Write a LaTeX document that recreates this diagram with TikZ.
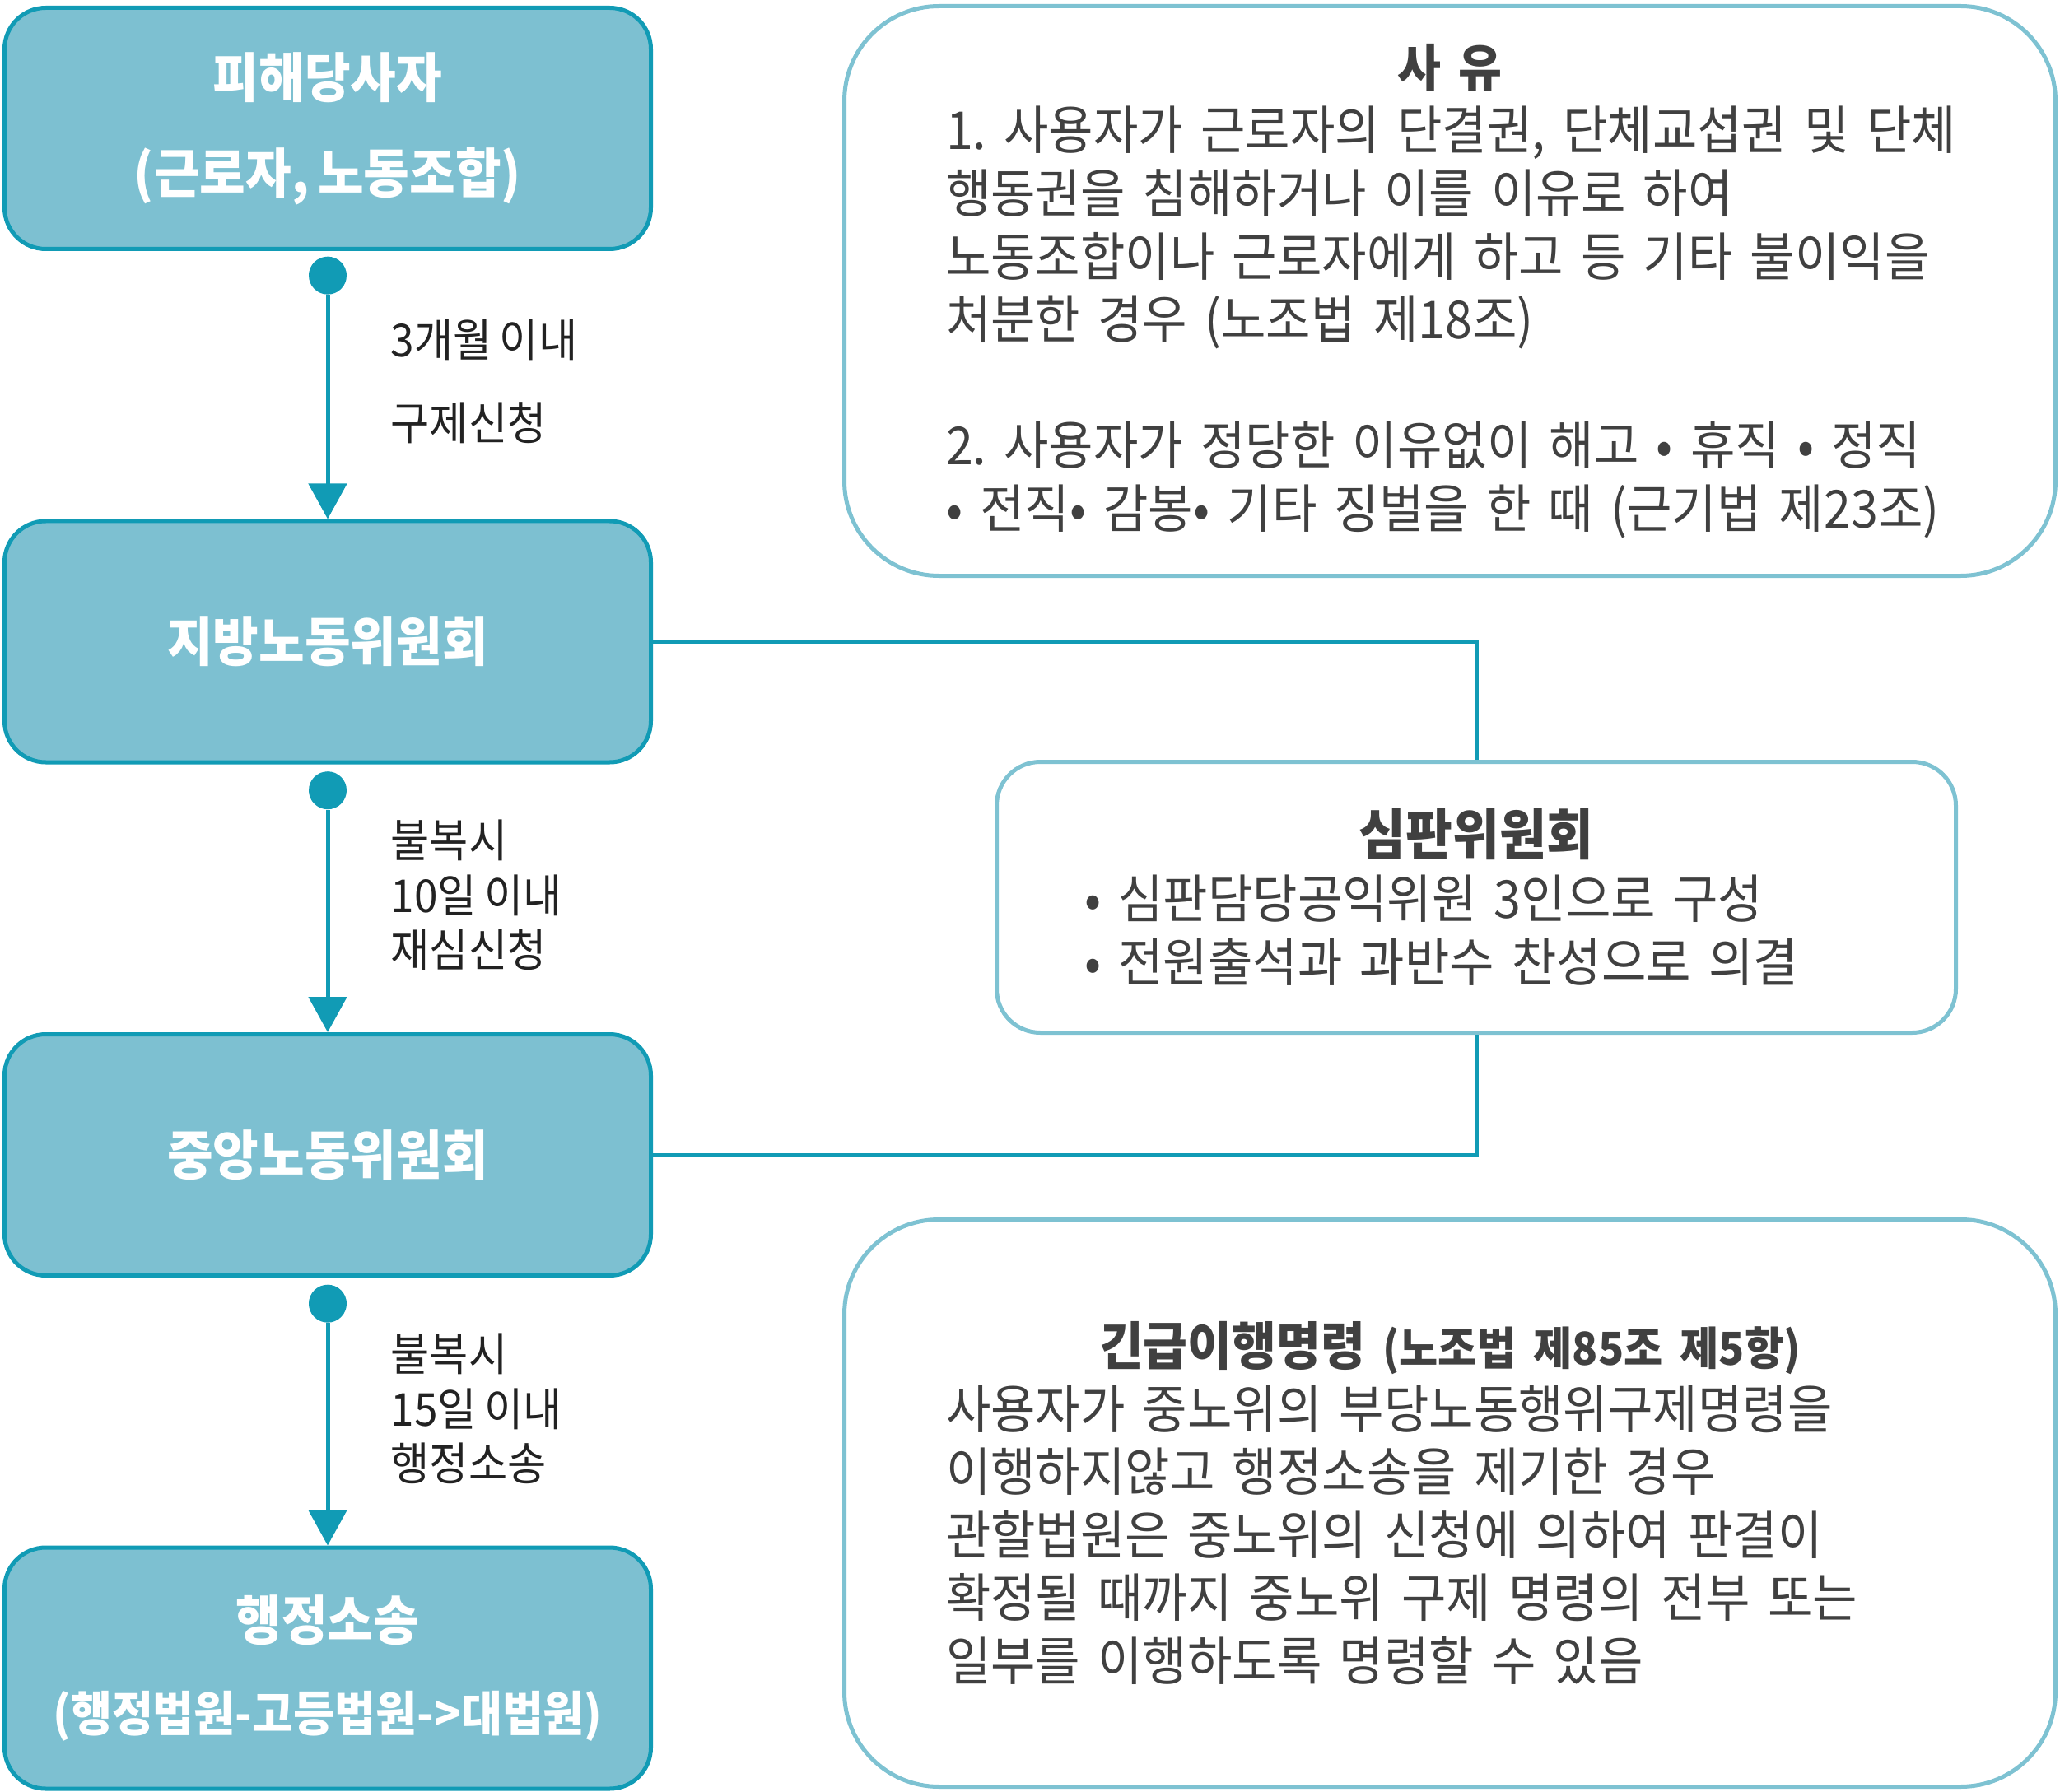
\documentclass[tikz,border=0pt]{standalone}
\usepackage{fontspec}
\setmainfont{Noto Sans CJK KR}[FakeStretch=0.93, WordSpace=0.8]
\usepackage{xcolor}
\usepackage{tikz}
\usetikzlibrary{positioning,arrows.meta}
\frenchspacing

\definecolor{boxfill}{HTML}{7DC0D1}
\definecolor{boxline}{HTML}{119BB5}
\definecolor{panelline}{HTML}{7EC2D2}
\definecolor{bodytext}{HTML}{404040}
\definecolor{notetext}{HTML}{222222}

\begin{document}
\begin{tikzpicture}[
    node distance=6.235cm,
    stage/.style={rectangle, rounded corners=0.5cm, draw=boxline, fill=boxfill, line width=0.05cm, minimum width=7.85cm, minimum height=2.93cm, align=center, text=white, font=\fontsize{18.5}{22}\selectfont\bfseries},
    panel/.style={rectangle, draw=panelline, line width=0.05cm, align=left, text=bodytext, font=\fontsize{18.1}{21.8}\selectfont},
    joint/.style={circle, fill=boxline, inner sep=0pt, minimum size=0.46cm},
    note/.style={anchor=west, inner sep=0pt, align=left, text=notetext, font=\fontsize{15.7}{18.9}\selectfont},
    flow/.style={-{Triangle[length=0.43cm,width=0.46cm]}, draw=boxline, line width=0.05cm},
    link/.style={draw=boxline, line width=0.05cm}
]
    \useasboundingbox (0,0) rectangle (25.02,-21.77);

    \node[stage] (victim) at (3.98,-1.56) {피해당사자\\[11pt](근로자, 노동조합)};
    \node[stage, below of=victim] (local) {지방노동위원회};
    \node[stage, below of=local] (central) {중앙노동위원회};
    \node[stage, below of=central] (court) {행정소송\\[9.5pt]{\fontsize{16.6}{20}\selectfont(행정법원-고등법원->대법원)}};

    \node[joint, below=0.06cm of victim] (j1) {};
    \node[joint, below=0.08cm of local] (j2) {};
    \node[joint, below=0.08cm of central] (j3) {};

    \draw[flow] (j1) -- (local);
    \draw[flow] (j2) -- (central);
    \draw[flow] (j3) -- (court);

    \node[note] (n1) at (4.74,-4.635) {3개월 이내\\[9.9pt]구제신청};
    \node[note] (n2) at (4.74,-10.875) {불복시\\10일 이내\\재심신청};
    \node[note] (n3) at (4.74,-17.115) {불복시\\15일 이내\\행정소송};

    \node[panel, rounded corners=1.15cm, minimum width=14.71cm, minimum height=6.92cm, text width=12.24cm] (cause) at (17.61,-3.535) {%
        \makebox[\linewidth]{\fontsize{17.6}{21.8}\selectfont\bfseries 사 유}\\
        \mbox{1. 사용자가 근로자의 단결권, 단체교섭권 및 단체}\\
        행동권을 침해하거나 이를 이유로 하여\\
        노동조합이나 근로자에게 하고 등 기타 불이익을\\
        처분한 경우 (노조법 제18조)\\[21.8pt]
        \mbox{2. 사용자가 정당한 이유없이 해고 • 휴직 • 정직}\\
        \mbox{• 전직• 감봉• 기타 징벌을 한 때 (근기법 제23조)}};

    \node[panel, rounded corners=0.53cm, minimum width=11.65cm, minimum height=3.29cm, text width=9.52cm] (review) at (17.93,-10.90) {%
        \makebox[\linewidth]{\fontsize{18.9}{21.8}\selectfont\bfseries 심판위원회}\\
        • 심판담당공익위원 3인으로 구성\\
        • 전원출석과 과반수 찬성으로 의결};

    \node[panel, rounded corners=1.15cm, minimum width=14.71cm, minimum height=6.89cm, text width=12.24cm] (order) at (17.61,-18.26) {%
        \makebox[\linewidth]{\fontsize{17.9}{21.8}\selectfont\bfseries 긴급이행명령 {\fontsize{15.7}{21.8}\selectfont (노조법 제85조 제5항)}}\\
        사용자가 중노위의 부당노동행위구제명령을\\
        이행하지않고 행정소송을 제기한 경우\\
        관할법원은 중노위의 신청에 의하여 판결이\\
        확정될 때까지 중노위 구제 명령의 전부 또는\\
        일부를 이행하도록 명령할 수 있음};

    \draw[link] (local.east) -| (review.north);
    \draw[link] (review.south) |- (central.east);
\end{tikzpicture}
\end{document}
